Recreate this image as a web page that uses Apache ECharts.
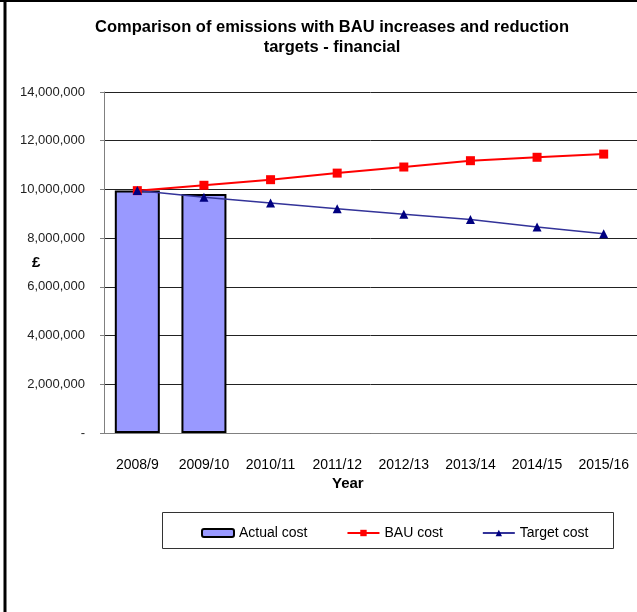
<!DOCTYPE html>
<html>
<head>
<meta charset="utf-8">
<script src="https://cdn.jsdelivr.net/npm/echarts@6/dist/echarts.min.js"></script>
<style>
  html, body { margin: 0; padding: 0; background: #fff; }
  #chart { width: 637px; height: 612px; }
</style>
</head>
<body>
<div id="chart"></div>
<script>
// data
const years = ['2008/9', '2009/10', '2010/11', '2011/12', '2012/13', '2013/14', '2014/15', '2015/16'];
const actualCost = [9960000, 9810000, null, null, null, null, null, null];
const bauCost = [9950000, 10170000, 10400000, 10670000, 10920000, 11180000, 11320000, 11450000];
const targetCost = [9960000, 9680000, 9440000, 9210000, 8980000, 8770000, 8460000, 8180000];

const font = '"Liberation Sans", Arial, sans-serif';

const chart = echarts.init(document.getElementById('chart'));
chart.setOption({
  animation: false,
  title: {
    text: 'Comparison of emissions with BAU increases and reduction\ntargets - financial',
    left: 327,
    top: 12,
    textAlign: 'center',
    textStyle: { fontFamily: font, fontSize: 16.5, fontWeight: 'bold', color: '#000', lineHeight: 20 }
  },
  grid: { left: 104, top: 92, right: -5, bottom: 179 },
  legend: {
    left: 201,
    top: 526,
    padding: 0,
    itemGap: 39,
    itemWidth: 32,
    itemHeight: 8,
    textStyle: { fontFamily: font, fontSize: 14, color: '#000' },
    data: [
      { name: 'Actual cost', itemStyle: { color: '#9999FF', borderColor: '#000', borderWidth: 2 } },
      { name: 'BAU cost' },
      { name: 'Target cost' }
    ]
  },
  graphic: [
    { type: 'line', shape: { x1: 5, y1: 0, x2: 5, y2: 612 }, style: { stroke: '#000', lineWidth: 3 } },
    { type: 'line', shape: { x1: 0, y1: 1, x2: 637, y2: 1 }, style: { stroke: '#000', lineWidth: 2 } },
    { type: 'rect', shape: { x: 162.5, y: 512.5, width: 451, height: 36 }, style: { fill: 'none', stroke: '#333', lineWidth: 1 }, z: -1 },
    { type: 'text', left: 32, top: 255, style: { text: '£', font: 'bold 15px ' + font, fill: '#000' } },
    { type: 'text', left: 332, top: 476, style: { text: 'Year', font: 'bold 15px ' + font, fill: '#000' } }
  ],
  xAxis: {
    type: 'category',
    data: years,
    boundaryGap: true,
    axisLine: { lineStyle: { color: '#808080', width: 1 } },
    axisTick: { alignWithLabel: false, length: 5, lineStyle: { color: '#808080' } },
    axisLabel: { interval: 0, margin: 25, fontFamily: font, fontSize: 14, color: '#000' }
  },
  yAxis: {
    type: 'value',
    min: 0,
    max: 14000000,
    interval: 2000000,
    axisLine: { show: true, lineStyle: { color: '#808080', width: 1 } },
    axisTick: { show: true, length: 4, lineStyle: { color: '#808080' } },
    splitLine: { lineStyle: { color: '#222', width: 1 } },
    axisLabel: {
      margin: 19,
      fontFamily: font,
      fontSize: 13,
      color: '#222',
      formatter: v => v === 0 ? '-' : v.toLocaleString('en-US')
    }
  },
  series: [
    {
      name: 'Actual cost',
      type: 'bar',
      data: actualCost,
      barWidth: 45,
      itemStyle: { color: '#9999FF', borderColor: '#000', borderWidth: 2 }
    },
    {
      name: 'BAU cost',
      type: 'line',
      data: bauCost,
      symbol: 'rect',
      symbolSize: 9,
      lineStyle: { color: '#FF0000', width: 2 },
      itemStyle: { color: '#FF0000' }
    },
    {
      name: 'Target cost',
      type: 'line',
      data: targetCost,
      symbol: 'triangle',
      symbolSize: 9,
      lineStyle: { color: '#333399', width: 1.5 },
      itemStyle: { color: '#000080' }
    }
  ]
});
</script>
</body>
</html>
